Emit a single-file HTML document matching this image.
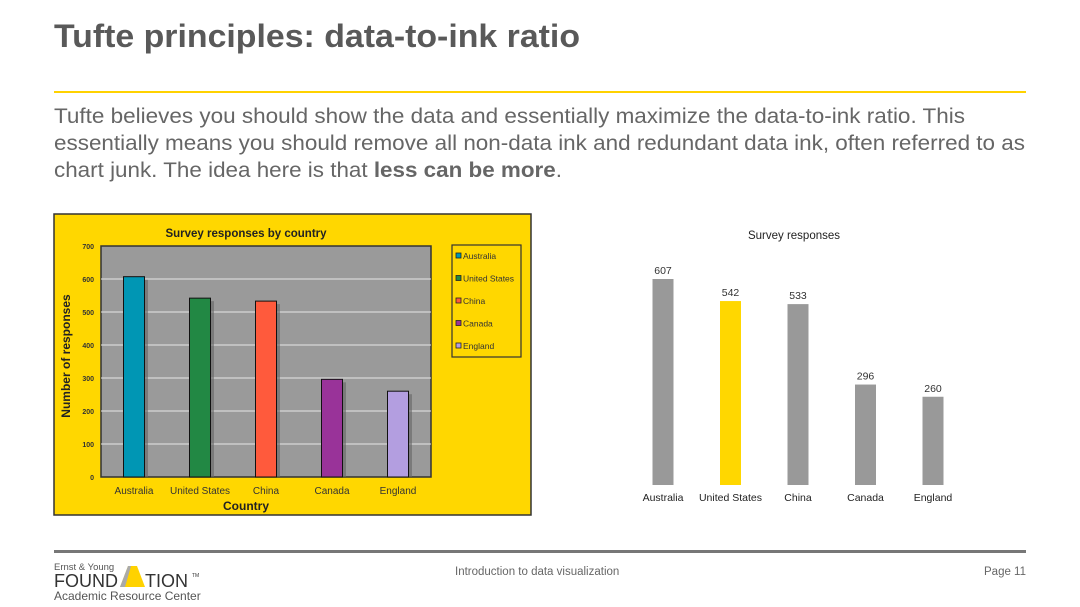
<!DOCTYPE html>
<html><head><meta charset="utf-8"><style>
body{margin:0;width:1080px;height:607px;background:#fff;overflow:hidden;font-family:"Liberation Sans",Arial,sans-serif;position:relative}
svg{position:absolute;left:0;top:0}
</style></head><body>
<svg width="1080" height="607">
<text x="54" y="47" font-size="32" font-weight="bold" fill="#595959" textLength="526" lengthAdjust="spacingAndGlyphs">Tufte principles: data-to-ink ratio</text>
<rect x="54" y="91" width="972" height="2" fill="#FFD200"/>
<g font-size="21" fill="#666">
<text x="54" y="123" textLength="911" lengthAdjust="spacingAndGlyphs">Tufte believes you should show the data and essentially maximize the data-to-ink ratio. This</text>
<text x="54" y="150" textLength="971" lengthAdjust="spacingAndGlyphs">essentially means you should remove all non-data ink and redundant data ink, often referred to as</text>
<text x="54" y="177" textLength="508" lengthAdjust="spacingAndGlyphs">chart junk. The idea here is that <tspan font-weight="bold">less can be more</tspan>.</text>
</g>
<g id="left"></g>
<g id="right"></g>
<rect x="54" y="550" width="972" height="3" fill="#777"/>
<g fill="#555">
<text x="54" y="570" font-size="9.5">Ernst &amp; Young</text>
<text x="54" y="587" font-size="18" fill="#333">FOUND</text>
<polygon points="120,587 128,566 137,566 145,587" fill="#FFD200"/>
<polygon points="120,587 128,566 131,566 125,587" fill="#aaa"/>
<text x="145" y="587" font-size="18" fill="#333">TION</text>
<text x="192" y="577" font-size="5" fill="#333">TM</text>
<text x="54" y="600" font-size="12">Academic Resource Center</text>
</g>
<text x="455" y="575" font-size="11.5" fill="#666">Introduction to data visualization</text>
<text x="1026" y="575" font-size="11.5" fill="#666" text-anchor="end">Page 11</text>
</svg>
<script>
const categories=["Australia","United States","China","Canada","England"];
const responses=[607,542,533,296,260];
const yTicks=[0,100,200,300,400,500,600,700];
const colorsJunk=["#0096B4","#228844","#FF5A3C","#993399","#B39EE0"];
const NS="http://www.w3.org/2000/svg";
function mk(parent,tag,attrs,text){const e=document.createElementNS(NS,tag);for(const k in attrs)e.setAttribute(k,attrs[k]);if(text!==undefined)e.textContent=text;parent.appendChild(e);return e;}
const L=document.getElementById('left');
const px0=101,px1=431,py0=477,py1=246,yMax=700;
const ly=v=>py0-(v/yMax)*(py0-py1);
const lx=i=>px0+33+i*66;
let e;
e=mk(L,'rect',{x:54,y:214,width:477,height:301,fill:'#FFD700',stroke:'#333','stroke-width':1.5});


e=mk(L,'rect',{x:px0,y:py1,width:px1-px0,height:py0-py1,fill:'#9a9a9a',stroke:'#333','stroke-width':1.5});


yTicks.forEach(t=>{
 if(t>0&&t<yMax){e=mk(L,'line',{x1:px0,x2:px1,y1:ly(t),y2:ly(t),stroke:'#e6e6e6','stroke-width':1});
 
 }
 e=mk(L,'text',{x:94,y:ly(t)+3,'font-size':7,'font-weight':'bold','text-anchor':'end',fill:'#333'},t);
 
 
});
responses.forEach((v,i)=>{
 e=mk(L,'rect',{x:lx(i)-10+3,y:ly(v)+3,width:21,height:py0-ly(v)-3,fill:'#666',opacity:0.6});
 
 
 e=mk(L,'rect',{x:lx(i)-10.5,y:ly(v),width:21,height:py0-ly(v),fill:colorsJunk[i],stroke:'#111','stroke-width':1});
 
 
 e=mk(L,'text',{x:lx(i),y:494,'font-size':10,'text-anchor':'middle',fill:'#333'},categories[i]);
 
 
});
e=mk(L,'text',{x:246,y:237,'font-size':11.5,'font-weight':'bold','text-anchor':'middle',fill:'#222'},'Survey responses by country');


e=mk(L,'text',{x:246,y:510,'font-size':12,'font-weight':'bold','text-anchor':'middle',fill:'#222'},'Country');


e=mk(L,'text',{x:0,y:0,'font-size':12,'font-weight':'bold','text-anchor':'middle',fill:'#222',transform:'translate(70,356) rotate(-90)'},'Number of responses');


e=mk(L,'rect',{x:452,y:245,width:69,height:112,fill:'none',stroke:'#333','stroke-width':1.2});


categories.forEach((c,i)=>{
 const yy=256+i*22.5;
 e=mk(L,'rect',{x:456,y:yy-3,width:5,height:5,fill:colorsJunk[i],stroke:'#222','stroke-width':0.8});
 
 
 e=mk(L,'text',{x:463,y:yy+3,'font-size':8.5,fill:'#333'},c);
 
 
});
const R=document.getElementById('right');
const rb=485,rscale=206/607;
const ry=v=>rb-v*rscale;
const rx=i=>663+i*67.5;
e=mk(R,'text',{x:794,y:239,'font-size':11.5,'text-anchor':'middle',fill:'#222'},'Survey responses');


responses.forEach((v,i)=>{
 e=mk(R,'rect',{x:rx(i)-10.5,y:ry(v),width:21,height:rb-ry(v),fill:i===1?'#FFD700':'#999'});
 
 
 e=mk(R,'text',{x:rx(i),y:ry(v)-5,'font-size':10.5,'text-anchor':'middle',fill:'#333'},v);
 
 
 e=mk(R,'text',{x:rx(i),y:501,'font-size':10.5,'text-anchor':'middle',fill:'#222'},categories[i]);
 
 
});
</script>
</body></html>
